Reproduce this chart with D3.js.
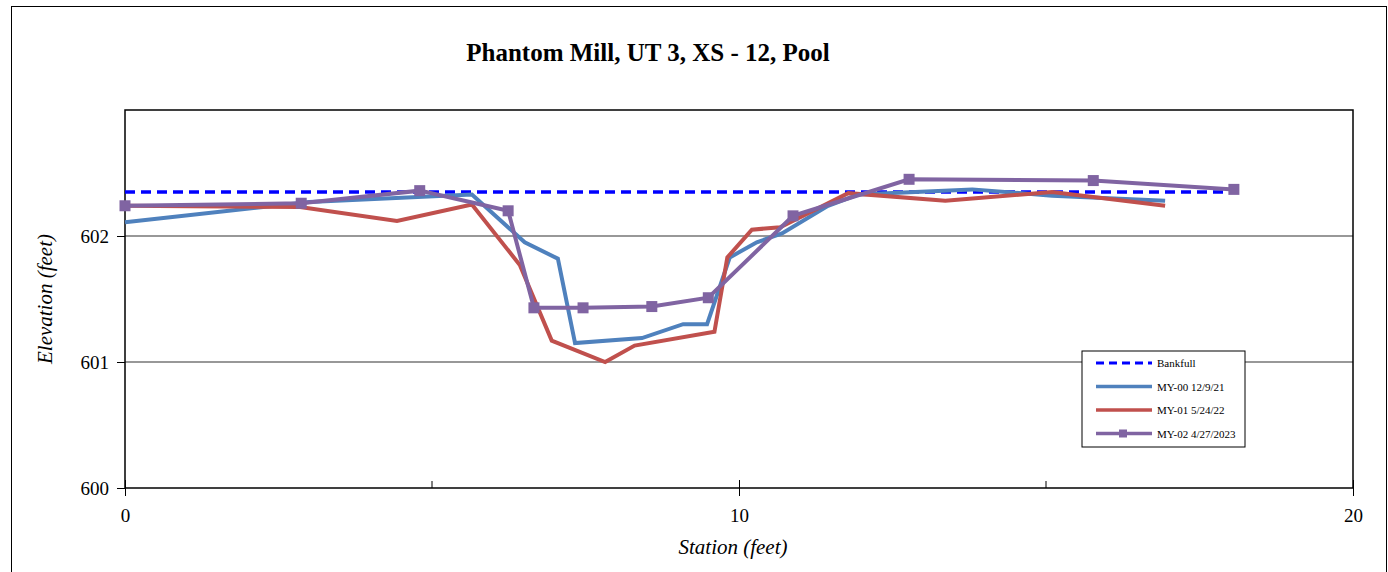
<!DOCTYPE html>
<html>
<head>
<meta charset="utf-8">
<script src="https://cdn.jsdelivr.net/npm/d3@7"></script>
<style>
  body { margin: 0; background: #fff; }
  svg { display: block; }
</style>
</head>
<body>
<div id="chart"></div>
<script>
// DATA
var bankfull = [[0, 602.35], [18.1, 602.35]];

var my00Station = [0, 3.0, 5.65, 6.51, 7.05, 7.33, 8.42, 9.09, 9.48, 9.85, 10.29, 10.7, 11.45, 11.95, 13.8, 15.1, 16.94];
var my00Elev    = [602.11, 602.27, 602.33, 601.95, 601.82, 601.15, 601.19, 601.30, 601.30, 601.83, 601.95, 602.02, 602.24, 602.33, 602.37, 602.32, 602.28];

var my01Station = [0, 2.85, 4.43, 5.65, 6.43, 6.95, 7.82, 8.3, 9.6, 9.81, 10.21, 10.67, 11.78, 13.36, 15.1, 16.94];
var my01Elev    = [602.24, 602.23, 602.12, 602.25, 601.77, 601.17, 601.00, 601.13, 601.24, 601.83, 602.05, 602.07, 602.34, 602.28, 602.35, 602.24];

var my02Station = [0, 2.87, 4.8, 6.24, 6.66, 7.46, 8.58, 9.5, 10.88, 12.77, 15.77, 18.06];
var my02Elev    = [602.24, 602.26, 602.36, 602.20, 601.43, 601.43, 601.44, 601.51, 602.16, 602.45, 602.44, 602.37];

var xTicks = [0, 10, 20];
var xMinorTicks = [5, 15];
var yTicks = [600, 601, 602];

var seriesNames = ["Bankfull", "MY-00 12/9/21", "MY-01 5/24/22", "MY-02 4/27/2023"];

// LAYOUT
var width = 1388;
var height = 572;
var margin = {left: 125, right: 35, top: 110, bottom: 84};
var serif = "Liberation Serif, Times New Roman, serif";

var svg = d3.select("#chart").append("svg")
    .attr("width", width)
    .attr("height", height);

// outer border
svg.append("rect")
    .attr("x", 11.5).attr("y", 6.5)
    .attr("width", 1375).attr("height", 575)
    .attr("fill", "none").attr("stroke", "#000").attr("stroke-width", 1);

var xScale = d3.scaleLinear().domain([0, 20]).range([margin.left, width - margin.right]);
var yScale = d3.scaleLinear().domain([600, 603]).range([height - margin.bottom, margin.top]);

function zip(a, b) { return a.map(function(d, i) { return [d, b[i]]; }); }

// grid lines
svg.selectAll(".grid")
    .data([601, 602])
    .enter().append("line")
    .attr("x1", xScale(0)).attr("x2", xScale(20))
    .attr("y1", function(d) { return yScale(d); })
    .attr("y2", function(d) { return yScale(d); })
    .attr("stroke", "#333").attr("stroke-width", 1.2);

// plot frame
svg.append("rect")
    .attr("x", xScale(0)).attr("y", yScale(603))
    .attr("width", xScale(20) - xScale(0))
    .attr("height", yScale(600) - yScale(603))
    .attr("fill", "none").attr("stroke", "#000").attr("stroke-width", 1.5);

// axes
var xAxis = d3.axisBottom(xScale).tickValues(xTicks).tickSize(8).tickFormat(d3.format("d"));
var gx = svg.append("g")
    .attr("transform", "translate(0," + yScale(600) + ")")
    .call(xAxis);
gx.select(".domain").remove();
gx.selectAll(".tick line").attr("y1", -8).attr("stroke", "#000");
gx.selectAll(".tick text")
    .attr("dy", "1.2em")
    .attr("font-family", serif)
    .attr("font-size", "19px").attr("fill", "#000");

svg.selectAll(".minor")
    .data(xMinorTicks)
    .enter().append("line")
    .attr("x1", function(d) { return xScale(d); })
    .attr("x2", function(d) { return xScale(d); })
    .attr("y1", yScale(600)).attr("y2", yScale(600) - 7)
    .attr("stroke", "#000");

var yAxis = d3.axisLeft(yScale).tickValues(yTicks).tickSize(8).tickFormat(d3.format("d"));
var gy = svg.append("g")
    .attr("transform", "translate(" + xScale(0) + ",0)")
    .call(yAxis);
gy.select(".domain").remove();
gy.selectAll(".tick line").attr("stroke", "#000");
gy.selectAll(".tick text")
    .attr("x", -16)
    .attr("font-family", serif)
    .attr("font-size", "19px").attr("fill", "#000");

// titles
svg.append("text")
    .attr("x", 648).attr("y", 61)
    .attr("text-anchor", "middle")
    .attr("font-family", serif)
    .attr("font-weight", "bold").attr("font-size", "25px")
    .text("Phantom Mill, UT 3, XS - 12, Pool");

svg.append("text")
    .attr("x", 733).attr("y", 554)
    .attr("text-anchor", "middle")
    .attr("font-family", serif)
    .attr("font-style", "italic").attr("font-size", "21px")
    .text("Station (feet)");

svg.append("text")
    .attr("transform", "translate(52," + yScale(601.5) + ") rotate(-90)")
    .attr("text-anchor", "middle")
    .attr("font-family", serif)
    .attr("font-style", "italic").attr("font-size", "21px")
    .text("Elevation (feet)");

// lines
var line = d3.line()
    .x(function(d) { return xScale(d[0]); })
    .y(function(d) { return yScale(d[1]); });

var colors = ["#0000FF", "#4F81BD", "#C0504D", "#8064A2"];

svg.append("path").datum(bankfull)
    .attr("d", line).attr("fill", "none")
    .attr("stroke", colors[0]).attr("stroke-width", 3.5)
    .attr("stroke-dasharray", "10,6");

var my00 = zip(my00Station, my00Elev);
var my01 = zip(my01Station, my01Elev);
var my02 = zip(my02Station, my02Elev);

[my00, my01, my02].forEach(function(s, i) {
  svg.append("path").datum(s)
      .attr("d", line).attr("fill", "none")
      .attr("stroke", colors[i + 1]).attr("stroke-width", 4)
      .attr("stroke-linejoin", "miter");
});

svg.selectAll(".marker")
    .data(my02)
    .enter().append("rect")
    .attr("x", function(d) { return xScale(d[0]) - 5.5; })
    .attr("y", function(d) { return yScale(d[1]) - 5.5; })
    .attr("width", 11).attr("height", 11)
    .attr("fill", colors[3]);

// legend
var lg = svg.append("g").attr("transform", "translate(1082,351)");
lg.append("rect")
    .attr("width", 163).attr("height", 96)
    .attr("fill", "#fff").attr("stroke", "#000").attr("stroke-width", 1);

var items = lg.selectAll(".item")
    .data(seriesNames)
    .enter().append("g")
    .attr("transform", function(d, i) { return "translate(0," + (12 + i * 23.5) + ")"; });

items.append("line")
    .attr("x1", 14).attr("x2", 70)
    .attr("y1", 0).attr("y2", 0)
    .attr("stroke", function(d, i) { return colors[i]; })
    .attr("stroke-width", function(d, i) { return i === 0 ? 3 : 3.5; })
    .attr("stroke-dasharray", function(d, i) { return i === 0 ? "8,5" : null; });

items.filter(function(d, i) { return i === 3; })
    .append("rect")
    .attr("x", 37).attr("y", -4).attr("width", 8).attr("height", 8)
    .attr("fill", colors[3]);

items.append("text")
    .attr("x", 75).attr("y", 4)
    .attr("font-family", serif)
    .attr("font-size", "11px")
    .text(function(d) { return d; });
</script>
</body>
</html>
